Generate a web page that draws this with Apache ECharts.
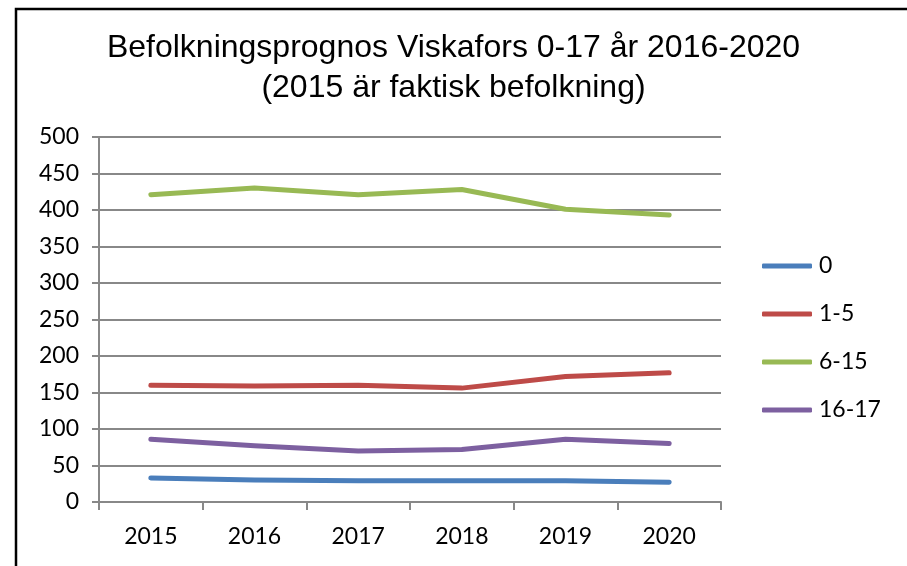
<!DOCTYPE html>
<html>
<head>
<meta charset="utf-8">
<script src="https://cdn.jsdelivr.net/npm/echarts@6/dist/echarts.min.js"></script>
<style>
  html, body { margin: 0; padding: 0; background: #fff; }
  #chart { width: 907px; height: 566px; }
</style>
</head>
<body>
<div id="chart"></div>
<script>
// år på x-axeln
var years = ['2015', '2016', '2017', '2018', '2019', '2020']
// åldersgrupper
var groups = ['0', '1-5', '6-15', '16-17']
// värden
var age0 = [33, 30, 29, 29, 29, 27]
var age1to5 = [160, 159, 160, 156, 172, 177]
var age6to15 = [421, 430, 421, 428, 401, 393]
var age16to17 = [86, 77, 70, 72, 86, 80]
var yTicks = [0, 50, 100, 150, 200, 250, 300, 350, 400, 450, 500]

var colors = ['#4A7EBB', '#BE4B48', '#98B954', '#7D60A0']
var seriesData = [age0, age1to5, age6to15, age16to17]

var labelFont = 'Lato, "Open Sans", sans-serif'

var chart = echarts.init(document.getElementById('chart'))
chart.setOption({
    animation: false,
    backgroundColor: '#fff',
    title: {
        text: 'Befolkningsprognos Viskafors 0-17 år 2016-2020\n(2015 är faktisk befolkning)',
        left: 'center',
        top: 28,
        padding: 0,
        textStyle: {
            fontFamily: '"Liberation Sans", Arial, sans-serif',
            fontWeight: 'normal',
            fontSize: 32,
            lineHeight: 40,
            color: '#000'
        }
    },
    legend: {
        orient: 'vertical',
        left: 762,
        top: 254,
        padding: 0,
        itemWidth: 50,
        itemHeight: 5,
        itemGap: 24,
        icon: 'roundRect',
        data: groups,
        textStyle: {
            fontFamily: labelFont,
            fontSize: 23,
            lineHeight: 24,
            color: '#000',
            padding: [0, 0, 0, 2]
        }
    },
    grid: {
        left: 99,
        right: 186,
        top: 137,
        bottom: 64
    },
    xAxis: {
        type: 'category',
        data: years,
        boundaryGap: true,
        axisLine: { lineStyle: { color: '#888', width: 2 } },
        axisTick: { show: true, length: 8, lineStyle: { color: '#888', width: 2 } },
        axisLabel: {
            margin: 23,
            fontFamily: labelFont,
            fontSize: 23,
            color: '#000'
        }
    },
    yAxis: {
        type: 'value',
        min: yTicks[0],
        max: yTicks[yTicks.length - 1],
        interval: 50,
        axisLine: { show: true, lineStyle: { color: '#888', width: 2 } },
        axisTick: { show: true, length: 7, lineStyle: { color: '#888', width: 2 } },
        splitLine: { lineStyle: { color: '#888', width: 2 } },
        axisLabel: {
            margin: 20,
            fontFamily: labelFont,
            fontSize: 23,
            color: '#000'
        }
    },
    series: groups.map(function (name, i) {
        return {
            name: name,
            type: 'line',
            data: seriesData[i],
            symbol: 'none',
            color: colors[i],
            lineStyle: { width: 5, cap: 'round', join: 'round', color: colors[i] }
        }
    }),
    graphic: [
        {
            type: 'polyline',
            shape: { points: [[16, 566], [16, 9], [907, 9]] },
            style: { stroke: '#000', lineWidth: 2.5, fill: null }
        }
    ]
})
</script>
</body>
</html>
